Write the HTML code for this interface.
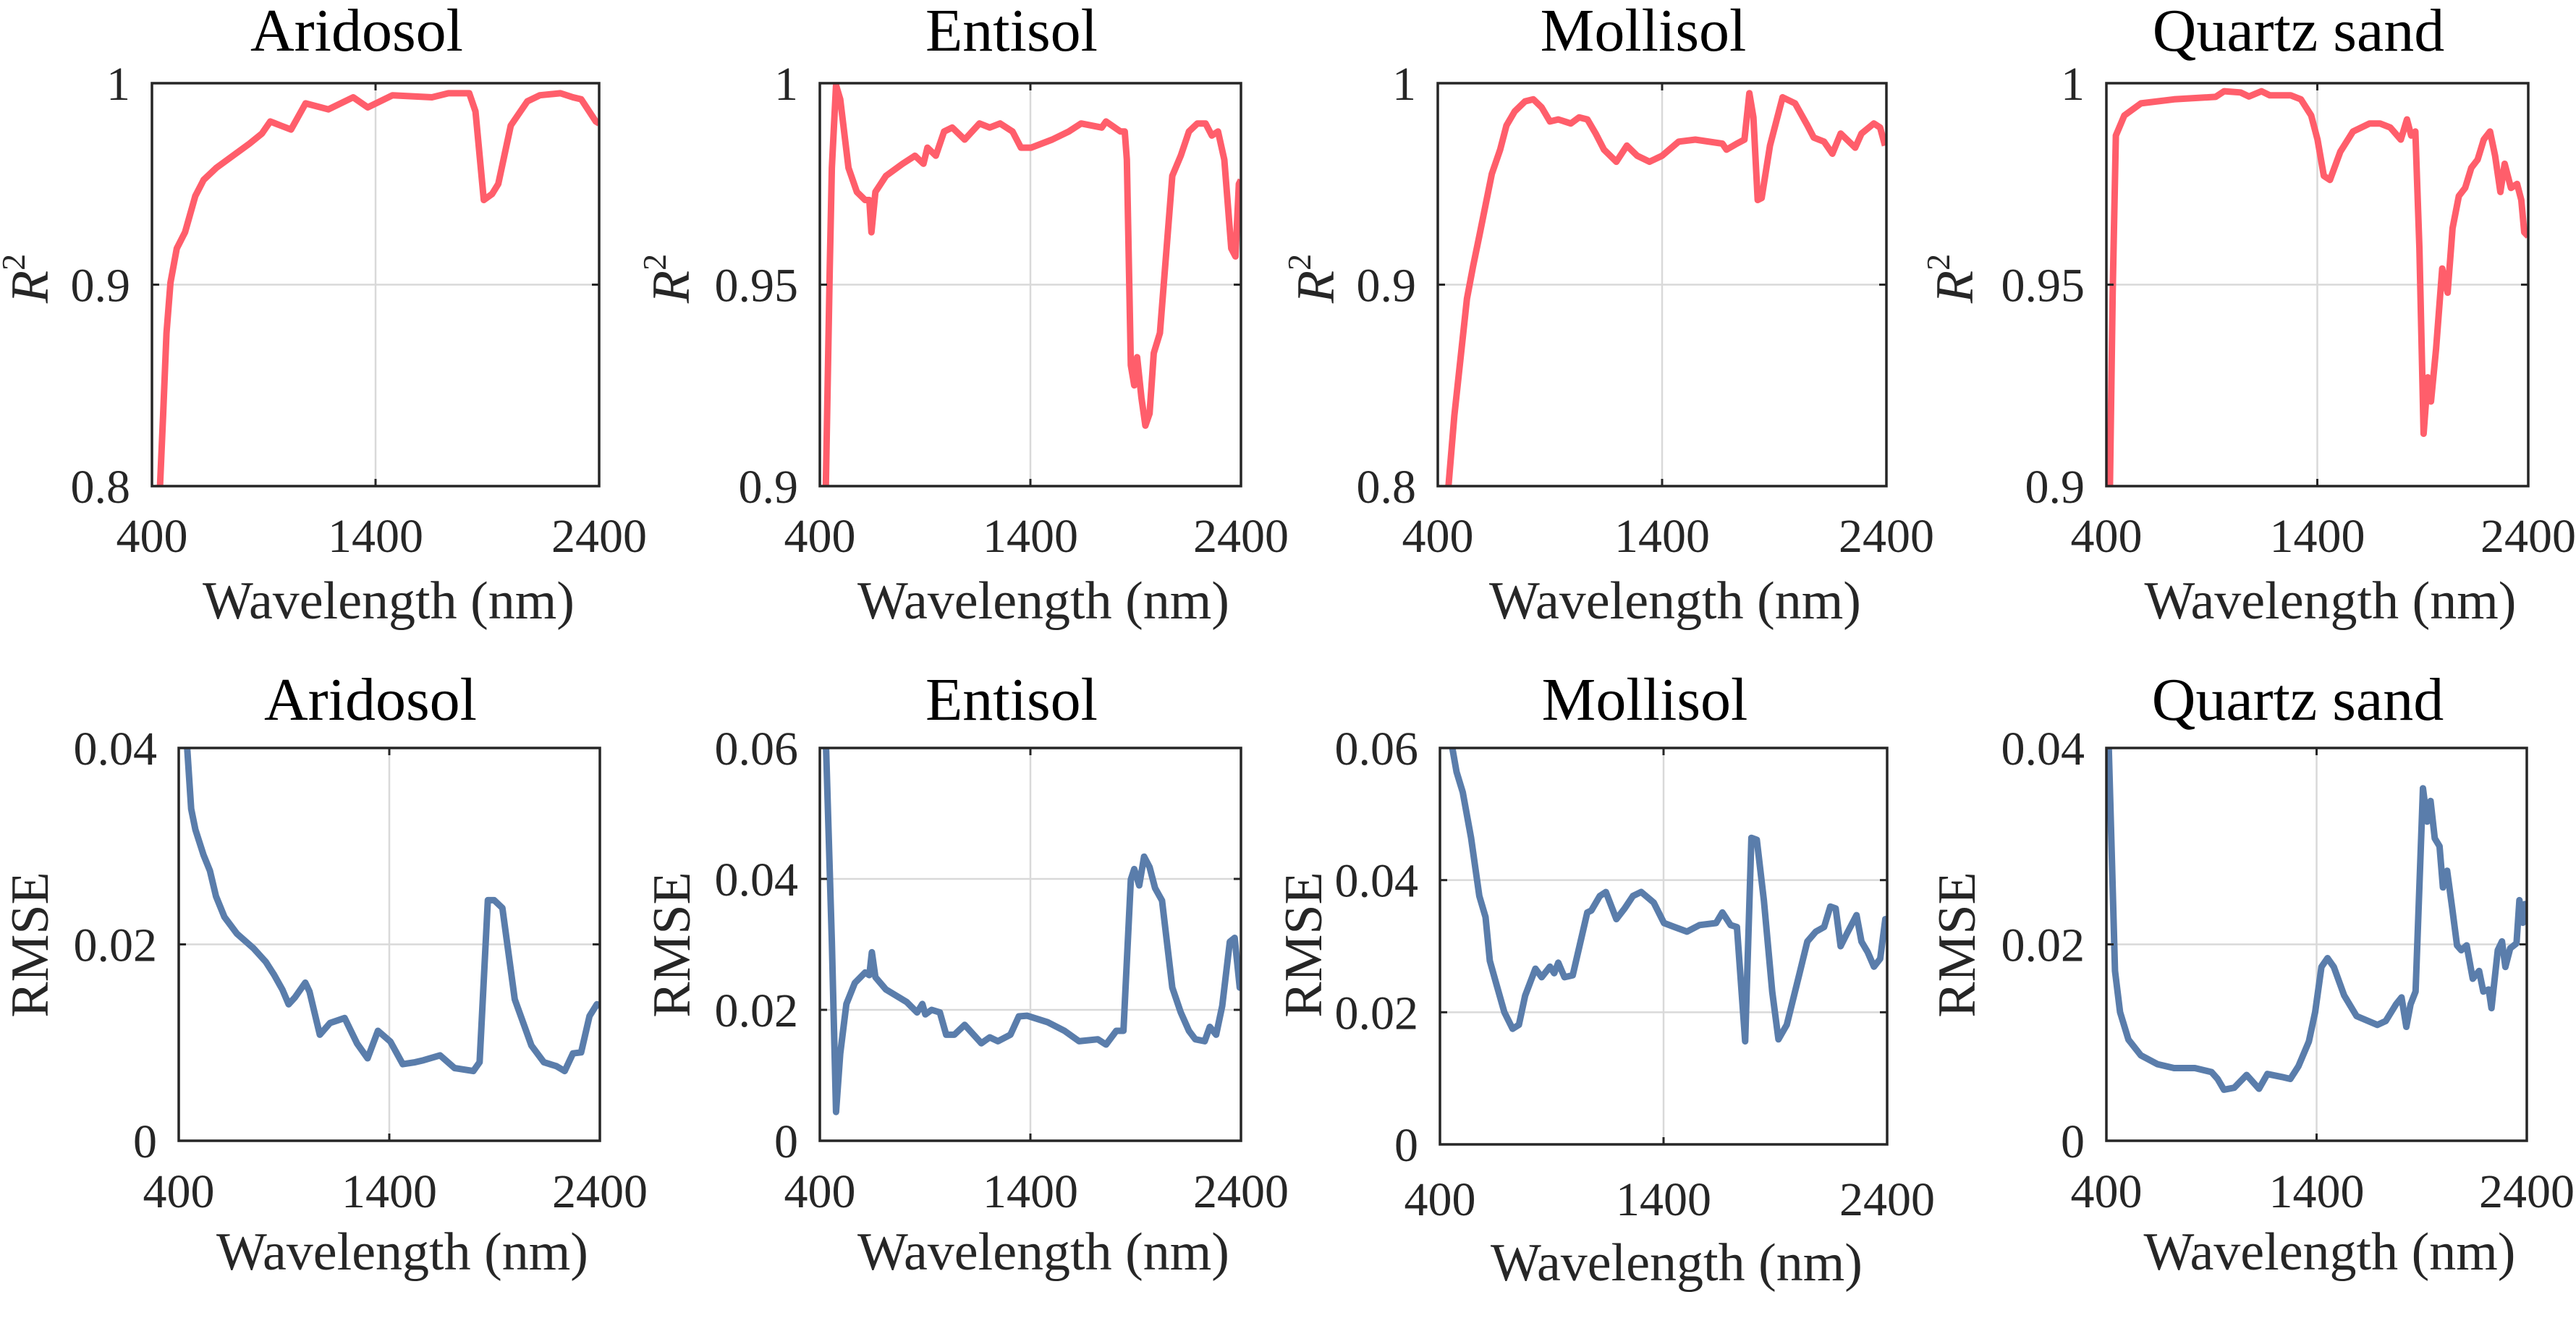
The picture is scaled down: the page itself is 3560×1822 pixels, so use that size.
<!DOCTYPE html>
<html><head><meta charset="utf-8">
<style>
html,body{margin:0;padding:0;background:#fff;}
svg{display:block;font-family:"Liberation Serif",serif;}
</style></head>
<body>
<svg id="fig" width="3560" height="1822" viewBox="0 0 3560 1822" xmlns="http://www.w3.org/2000/svg"></svg>
<script>
// ---- data (wavelength in nm) ----
const aridR2Wl = [428,450,465,483,511,548,594,631,688,762,836,892,929,975,1022,1087,1189,1300,1365,1476,1652,1726,1819,1847,1884,1921,1949,2005,2079,2135,2227,2283,2320,2385,2400];
const aridR2 = [0.78,0.835,0.876,0.901,0.918,0.926,0.944,0.952,0.958,0.964,0.970,0.975,0.981,0.979,0.977,0.990,0.987,0.993,0.988,0.994,0.993,0.995,0.995,0.986,0.942,0.945,0.950,0.979,0.991,0.994,0.995,0.993,0.992,0.981,0.980];
const entiR2Wl = [425,447,457,477,497,536,576,615,635,645,664,714,793,852,892,911,951,990,1029,1088,1158,1207,1256,1315,1355,1404,1503,1582,1641,1739,1759,1828,1848,1858,1877,1893,1907,1927,1946,1966,1986,2015,2074,2114,2153,2193,2232,2262,2291,2321,2354,2374,2390,2400];
const entiR2 = [0.89,0.954,0.979,0.9995,0.996,0.979,0.973,0.971,0.971,0.963,0.973,0.977,0.980,0.982,0.980,0.984,0.982,0.988,0.989,0.986,0.990,0.989,0.990,0.988,0.984,0.984,0.986,0.988,0.990,0.989,0.9905,0.988,0.988,0.981,0.930,0.925,0.932,0.922,0.915,0.918,0.933,0.938,0.977,0.982,0.988,0.990,0.990,0.987,0.988,0.981,0.959,0.957,0.975,0.976];
const molR2Wl = [444,474,502,530,557,585,641,678,706,743,789,826,863,900,937,993,1030,1067,1104,1141,1196,1243,1289,1344,1400,1474,1548,1669,1687,1733,1767,1789,1807,1826,1844,1881,1937,1993,2048,2076,2122,2159,2196,2261,2289,2344,2372,2394];
const molR2 = [0.795,0.835,0.864,0.893,0.909,0.924,0.955,0.967,0.979,0.986,0.991,0.992,0.988,0.981,0.982,0.980,0.983,0.982,0.975,0.967,0.961,0.969,0.964,0.961,0.964,0.971,0.972,0.970,0.967,0.970,0.972,0.995,0.983,0.942,0.943,0.969,0.993,0.990,0.979,0.973,0.971,0.965,0.975,0.968,0.975,0.980,0.978,0.969];
const quaR2Wl = [414,430,445,485,564,721,918,958,1036,1076,1135,1174,1273,1322,1371,1401,1431,1460,1509,1569,1648,1697,1746,1796,1825,1845,1865,1884,1904,1924,1939,1963,1992,2018,2041,2071,2101,2130,2160,2189,2219,2243,2268,2288,2318,2347,2367,2381,2400];
const quaR2 = [0.89,0.948,0.987,0.992,0.995,0.996,0.9966,0.998,0.9977,0.9967,0.998,0.997,0.997,0.996,0.992,0.986,0.977,0.976,0.983,0.988,0.990,0.990,0.989,0.986,0.991,0.987,0.988,0.959,0.913,0.927,0.921,0.934,0.954,0.948,0.964,0.972,0.974,0.979,0.981,0.986,0.988,0.982,0.973,0.980,0.974,0.975,0.971,0.963,0.962];
const aridRmseWl = [437,459,479,518,548,577,617,676,755,814,853,892,922,952,1001,1021,1070,1119,1188,1247,1297,1346,1405,1464,1523,1562,1641,1710,1799,1829,1868,1898,1937,1996,2075,2134,2193,2233,2272,2311,2351,2386,2400];
const aridRmse = [0.041,0.0338,0.0317,0.0291,0.0275,0.0249,0.0228,0.0211,0.0196,0.0182,0.0169,0.0154,0.0139,0.0146,0.0161,0.0152,0.0108,0.0120,0.0125,0.0099,0.0084,0.0112,0.0101,0.0078,0.0080,0.0082,0.0087,0.0074,0.0071,0.0080,0.0245,0.0245,0.0237,0.0144,0.0097,0.0080,0.0076,0.0071,0.0089,0.0090,0.0127,0.0139,0.0137];
const entiRmseWl = [428,457,477,497,526,566,615,635,647,664,714,812,862,887,901,931,970,1000,1039,1088,1167,1207,1246,1305,1345,1384,1483,1562,1631,1720,1759,1808,1842,1877,1893,1917,1940,1966,1992,2025,2074,2114,2153,2183,2228,2252,2282,2311,2347,2370,2394,2400];
const entiRmse = [0.062,0.0304,0.0044,0.0133,0.0209,0.0241,0.0257,0.0253,0.0288,0.0250,0.0231,0.0212,0.0196,0.0209,0.0193,0.0200,0.0196,0.0162,0.0162,0.0177,0.0149,0.0158,0.0152,0.0162,0.0190,0.0191,0.0181,0.0168,0.0152,0.0155,0.0147,0.0168,0.0168,0.0399,0.0415,0.0390,0.0434,0.0418,0.0386,0.0367,0.0234,0.0196,0.0168,0.0155,0.0152,0.0174,0.0162,0.0206,0.0304,0.0310,0.0234,0.0236];
const molRmseWl = [450,474,502,539,576,604,623,651,688,725,753,781,827,855,892,911,929,957,994,1059,1077,1115,1142,1189,1226,1263,1300,1356,1402,1449,1505,1561,1635,1663,1700,1728,1765,1793,1817,1849,1886,1914,1951,2006,2043,2081,2118,2146,2170,2192,2220,2263,2285,2313,2341,2369,2392,2400];
const molRmse = [0.061,0.0564,0.0533,0.0464,0.0376,0.0344,0.0278,0.0244,0.0200,0.0175,0.0181,0.0225,0.0266,0.0253,0.0269,0.0259,0.0275,0.0253,0.0256,0.0351,0.0354,0.0376,0.0382,0.0341,0.0357,0.0376,0.0382,0.0366,0.0335,0.0329,0.0322,0.0332,0.0335,0.0351,0.0332,0.0329,0.0156,0.0464,0.0461,0.0369,0.0231,0.0159,0.0181,0.0256,0.0307,0.0322,0.0329,0.0360,0.0357,0.0300,0.0319,0.0347,0.0307,0.0291,0.0269,0.0281,0.0341,0.0335];
const quaRmseWl = [410,426,441,465,505,564,643,722,821,900,929,959,1008,1067,1126,1166,1235,1275,1314,1363,1393,1423,1452,1482,1531,1590,1689,1729,1778,1804,1827,1847,1871,1906,1926,1942,1962,1985,2001,2021,2045,2068,2088,2114,2143,2173,2193,2219,2232,2262,2282,2298,2321,2351,2365,2381,2391,2400];
const quaRmse = [0.041,0.0287,0.0173,0.0131,0.0103,0.0087,0.0078,0.0074,0.0074,0.0070,0.0063,0.0052,0.0054,0.0067,0.0053,0.0068,0.0065,0.0063,0.0076,0.0101,0.0131,0.0177,0.0186,0.0177,0.0148,0.0127,0.0118,0.0122,0.0139,0.0146,0.0116,0.0139,0.0152,0.0359,0.0325,0.0346,0.0308,0.0300,0.0258,0.0275,0.0237,0.0199,0.0194,0.0199,0.0165,0.0173,0.0152,0.0154,0.0135,0.0194,0.0203,0.0177,0.0196,0.0201,0.0245,0.0222,0.0241,0.0235];
const xTicks = [400,1400,2400];
const xTickLabels = ["400","1400","2400"];
const r2TicksA = [0.8,0.9,1];
const r2TickLabelsA = ["0.8","0.9","1"];
const r2TicksB = [0.9,0.95,1];
const r2TickLabelsB = ["0.9","0.95","1"];
const rmseTicksA = [0,0.02,0.04];
const rmseTickLabelsA = ["0","0.02","0.04"];
const rmseTicksB = [0,0.02,0.04,0.06];
const rmseTickLabelsB = ["0","0.02","0.04","0.06"];

// ---- layout ----
const NS = "http://www.w3.org/2000/svg";
const svg = document.getElementById('fig');
const RED = "#ff5e6b", BLUE = "#5a7dab";
const panels = [
 {key:"aridosol-r2",title:"Aridosol",wl:aridR2Wl,v:aridR2,ticks:r2TicksA,labels:r2TickLabelsA,yl:"r2",L:210,R:828,T:115,B:672,color:RED,tb:70,xtb:763,xlb:855,ylx:66,yly:385},
 {key:"entisol-r2",title:"Entisol",wl:entiR2Wl,v:entiR2,ticks:r2TicksB,labels:r2TickLabelsB,yl:"r2",L:1133,R:1715,T:115,B:672,color:RED,tb:70,xtb:763,xlb:855,ylx:952,yly:385},
 {key:"mollisol-r2",title:"Mollisol",wl:molR2Wl,v:molR2,ticks:r2TicksA,labels:r2TickLabelsA,yl:"r2",L:1987,R:2607,T:115,B:672,color:RED,tb:70,xtb:763,xlb:855,ylx:1843,yly:385},
 {key:"quartz-sand-r2",title:"Quartz sand",wl:quaR2Wl,v:quaR2,ticks:r2TicksB,labels:r2TickLabelsB,yl:"r2",L:2911,R:3494,T:115,B:672,color:RED,tb:70,xtb:763,xlb:855,ylx:2726,yly:385},
 {key:"aridosol-rmse",title:"Aridosol",wl:aridRmseWl,v:aridRmse,ticks:rmseTicksA,labels:rmseTickLabelsA,yl:"rmse",L:247,R:829,T:1034,B:1577,color:BLUE,tb:995,xtb:1669,xlb:1755,ylx:66,yly:1306},
 {key:"entisol-rmse",title:"Entisol",wl:entiRmseWl,v:entiRmse,ticks:rmseTicksB,labels:rmseTickLabelsB,yl:"rmse",L:1133,R:1715,T:1034,B:1577,color:BLUE,tb:995,xtb:1669,xlb:1755,ylx:953,yly:1306},
 {key:"mollisol-rmse",title:"Mollisol",wl:molRmseWl,v:molRmse,ticks:rmseTicksB,labels:rmseTickLabelsB,yl:"rmse",L:1990,R:2608,T:1034,B:1582,color:BLUE,tb:995,xtb:1680,xlb:1770,ylx:1826,yly:1306},
 {key:"quartz-sand-rmse",title:"Quartz sand",wl:quaRmseWl,v:quaRmse,ticks:rmseTicksA,labels:rmseTickLabelsA,yl:"rmse",L:2911,R:3492,T:1034,B:1577,color:BLUE,tb:995,xtb:1669,xlb:1755,ylx:2729,yly:1306}
];

function mk(tag, attrs, parent){
  const e = document.createElementNS(NS, tag);
  for (const k in attrs) e.setAttribute(k, attrs[k]);
  (parent||svg).appendChild(e);
  return e;
}

const defs = mk('defs', {});
panels.forEach((p, i) => {
  const g = mk('g', {});
  
  
  const ymin = p.ticks[0], ymax = p.ticks[p.ticks.length-1];
  const xs = w => p.L + (w - 400) / 2000 * (p.R - p.L);
  const ys = v => p.B - (v - ymin) / (ymax - ymin) * (p.B - p.T);

  const gx = xs(1400);
  const vg = mk('line', {x1:gx, y1:p.T, x2:gx, y2:p.B, stroke:'#d9d9d9', 'stroke-width':2.5}, g);
  
  
  p.ticks.forEach((t, j) => {
    if (j === 0 || j === p.ticks.length-1) return;
    const hg = mk('line', {x1:p.L, y1:ys(t), x2:p.R, y2:ys(t), stroke:'#d9d9d9', 'stroke-width':2.5}, g);
    
    
  });

  const cid = 'clip' + i;
  const cp = mk('clipPath', {id:cid}, defs);
  mk('rect', {x:p.L, y:p.T, width:p.R-p.L, height:p.B-p.T}, cp);
  const d = p.wl.map((w, k) => (k ? 'L' : 'M') + xs(w).toFixed(1) + ' ' + ys(p.v[k]).toFixed(1)).join(' ');
  const path = mk('path', {d:d, fill:'none', stroke:p.color, 'stroke-width':9, 'stroke-linejoin':'round', 'clip-path':'url(#' + cid + ')'}, g);
  
  

  p.ticks.forEach(t => {
    mk('line', {x1:p.L, y1:ys(t), x2:p.L+10, y2:ys(t), stroke:'#262626', 'stroke-width':3}, g);
    mk('line', {x1:p.R, y1:ys(t), x2:p.R-10, y2:ys(t), stroke:'#262626', 'stroke-width':3}, g);
  });
  xTicks.forEach(t => {
    mk('line', {x1:xs(t), y1:p.B, x2:xs(t), y2:p.B-10, stroke:'#262626', 'stroke-width':3}, g);
    mk('line', {x1:xs(t), y1:p.T, x2:xs(t), y2:p.T+10, stroke:'#262626', 'stroke-width':3}, g);
  });

  const box = mk('rect', {x:p.L, y:p.T, width:p.R-p.L, height:p.B-p.T, fill:'none', stroke:'#262626', 'stroke-width':3.5}, g);
  
  

  p.ticks.forEach((t, j) => {
    const tl = mk('text', {x:p.L-30, y:ys(t)+23, 'text-anchor':'end', 'font-size':66, fill:'#262626'}, g);
    tl.textContent = p.labels[j];
    
    
  });
  xTicks.forEach((t, j) => {
    const tl = mk('text', {x:xs(t), y:p.xtb, 'text-anchor':'middle', 'font-size':66, fill:'#262626'}, g);
    tl.textContent = xTickLabels[j];
    
    
  });
  const tt = mk('text', {x:(p.L+p.R)/2-26, y:p.tb, 'text-anchor':'middle', 'font-size':84, fill:'#000'}, g);
  tt.textContent = p.title;
  
  
  const xl = mk('text', {x:(p.L+p.R)/2+18, y:p.xlb, 'text-anchor':'middle', 'font-size':74, fill:'#262626'}, g);
  xl.textContent = 'Wavelength (nm)';
  
  
  const yl = mk('text', {x:0, y:0, 'text-anchor':'middle', 'font-size':74, fill:'#262626', transform:'translate(' + p.ylx + ',' + p.yly + ') rotate(-90)'}, g);
  if (p.yl === 'r2') {
    const r = mk('tspan', {'font-style':'italic'}, yl); r.textContent = 'R';
    const s = mk('tspan', {'font-size':46, dy:-32}, yl); s.textContent = '2';
  } else {
    yl.textContent = 'RMSE';
  }
  
  
});
</script>
</body></html>
